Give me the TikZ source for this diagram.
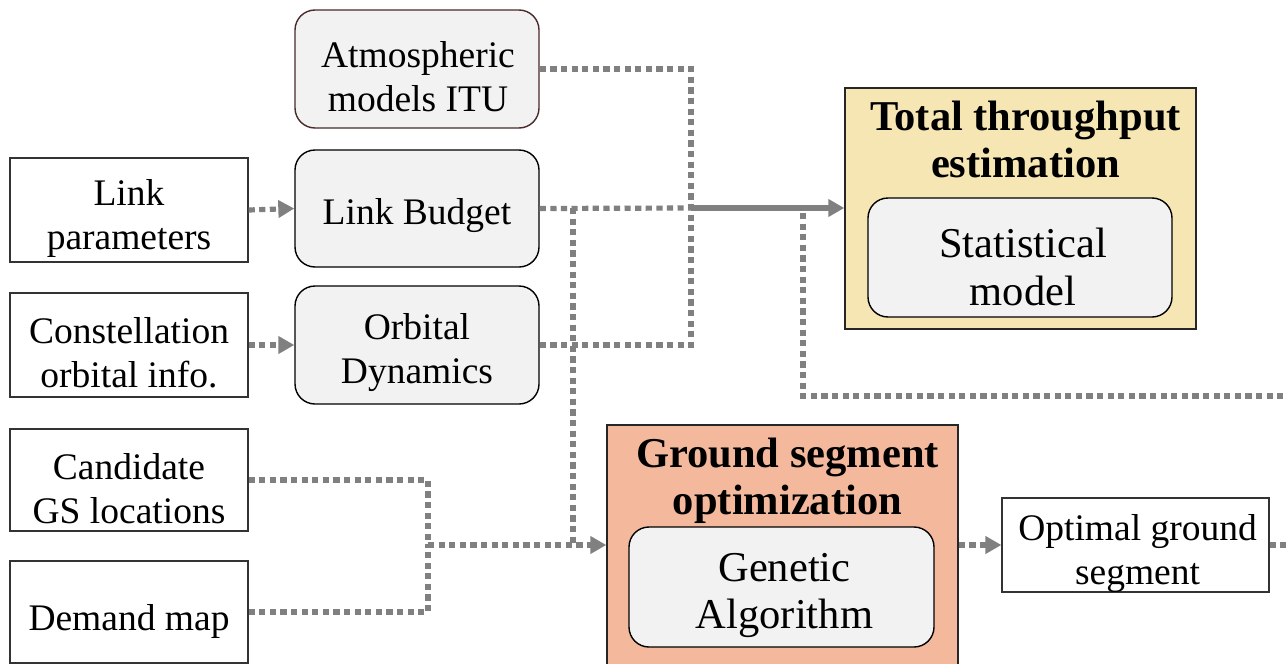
\documentclass[tikz,border=0pt]{standalone}
\usepackage{fontspec}
\setmainfont{Liberation Serif}
\usetikzlibrary{arrows.meta}

\definecolor{flowgray}{HTML}{808080}
\definecolor{blockfill}{HTML}{F2F2F2}
\definecolor{sandfill}{HTML}{F5E6B3}
\definecolor{salmonfill}{HTML}{F4B99C}
\definecolor{atmborder}{HTML}{4A2A2A}

\tikzset{
  plain/.style={draw=black!80, line width=1.2pt, fill=white, inner sep=0pt},
  module/.style={draw=black, line width=1.4pt, fill=blockfill, rounded corners=20pt, inner sep=0pt},
  stage/.style={draw=black!85, line width=1.4pt, inner sep=0pt},
  txt/.style={align=center, inner sep=0pt, font=\fontsize{37.5}{44}\selectfont},
  bigtxt/.style={align=center, inner sep=0pt, font=\fontsize{42.5}{47.5}\selectfont},
  stagetitle/.style={align=center, inner sep=0pt, font=\fontsize{42.5}{47}\selectfont\bfseries},
  flow/.style={draw=flowgray, line width=5.2pt, dash pattern=on 6.2pt off 4.4pt},
  flowtip/.style={-{Triangle[length=16pt,width=17pt]}},
  feed/.style={draw=flowgray, line width=5.2pt, -{Triangle[length=16pt,width=17pt]}},
}

\begin{document}
\begin{tikzpicture}[x=1pt,y=-1pt]
\useasboundingbox (0,0) rectangle (1288,664);
\clip (0,0) rectangle (1288,664);

% input blocks
\node[plain, minimum width=238pt, minimum height=104pt] (lp) at (129,210) {};
\node[txt] (lp-t) at (129,218.5) {Link\\parameters};
\node[plain, minimum width=238pt, minimum height=104pt] (co) at (129,345) {};
\node[txt] (co-t) at (129,353) {Constellation\\orbital info.};
\node[plain, minimum width=238pt, minimum height=102pt] (cg) at (129,480) {};
\node[txt] (cg-t) at (129,488.5) {Candidate\\GS locations};
\node[plain, minimum width=238pt, minimum height=102pt] (dm) at (129,612) {};
\node[txt] (dm-t) at (129,621) {Demand map};

% models
\node[module, draw=atmborder, minimum width=244pt, minimum height=118pt] (atm) at (417,69) {};
\node[txt] (atm-t) at (418,77) {Atmospheric\\models ITU};
\node[module, minimum width=244pt, minimum height=117pt] (lb) at (417,208.5) {};
\node[txt] (lb-t) at (417,215.5) {Link Budget};
\node[module, minimum width=244pt, minimum height=118pt] (od) at (417,345) {};
\node[txt] (od-t) at (417,353) {Orbital\\Dynamics};

% throughput estimation stage
\node[stage, fill=sandfill, minimum width=351pt, minimum height=241pt] (tt) at (1020.5,208.5) {};
\node[stagetitle] (tt-t) at (1025.5,139.5) {Total throughput\\estimation};
\node[module, minimum width=304pt, minimum height=119pt] (sm) at (1020,257.5) {};
\node[bigtxt] (sm-t) at (1023,267) {Statistical\\model};

% ground segment optimization stage
\node[stage, fill=salmonfill, minimum width=351pt, minimum height=241pt] (gs) at (782.5,545.5) {};
\node[stagetitle] (gs-t) at (787.5,480.5) {Ground segment\\optimization};
\node[module, minimum width=305pt, minimum height=120pt] (ga) at (781.5,587) {};
\node[bigtxt] (ga-t) at (784.5,595.5) {Genetic\\Algorithm};

% output
\node[plain, minimum width=267pt, minimum height=94pt] (og) at (1135.5,545) {};
\node[txt] (og-t) at (1137.5,554) {Optimal ground\\segment};

% junctions
\coordinate (j1) at (691,208);
\coordinate (j2) at (573,208);
\coordinate (j3) at (803,208);
\coordinate (j4) at (428,545);
\coordinate (j5) at (573,545);
\coordinate (fbA) at (803,396);
\coordinate (fbB) at (1300,396);
\coordinate (ogout) at (1300,545);

% connectors
\draw[flow, flowtip] (lp.east) -- (lb.west);
\draw[flow, flowtip] (co.east) -- (od.west);
\draw[flow] (atm.east) -| (j1);
\draw[flow] (od.east) -| (j1);
\draw[flow] (lb.east) -- (j1);
\draw[flow] (j2) -- (j5);
\draw[flow] ([yshift=-5pt]j3) -- (fbA) -- (fbB);
\draw[feed] (j1) -- (tt.west |- j1);
\draw[flow] (cg.east) -| (j4);
\draw[flow] (dm.east) -| (j4);
\draw[flow, flowtip] (j4) -- (gs.west |- j4);
\draw[flow, flowtip] (gs.east |- og.west) -- (og.west);
\draw[flow] (og.east) -- (ogout);
\end{tikzpicture}
\end{document}
